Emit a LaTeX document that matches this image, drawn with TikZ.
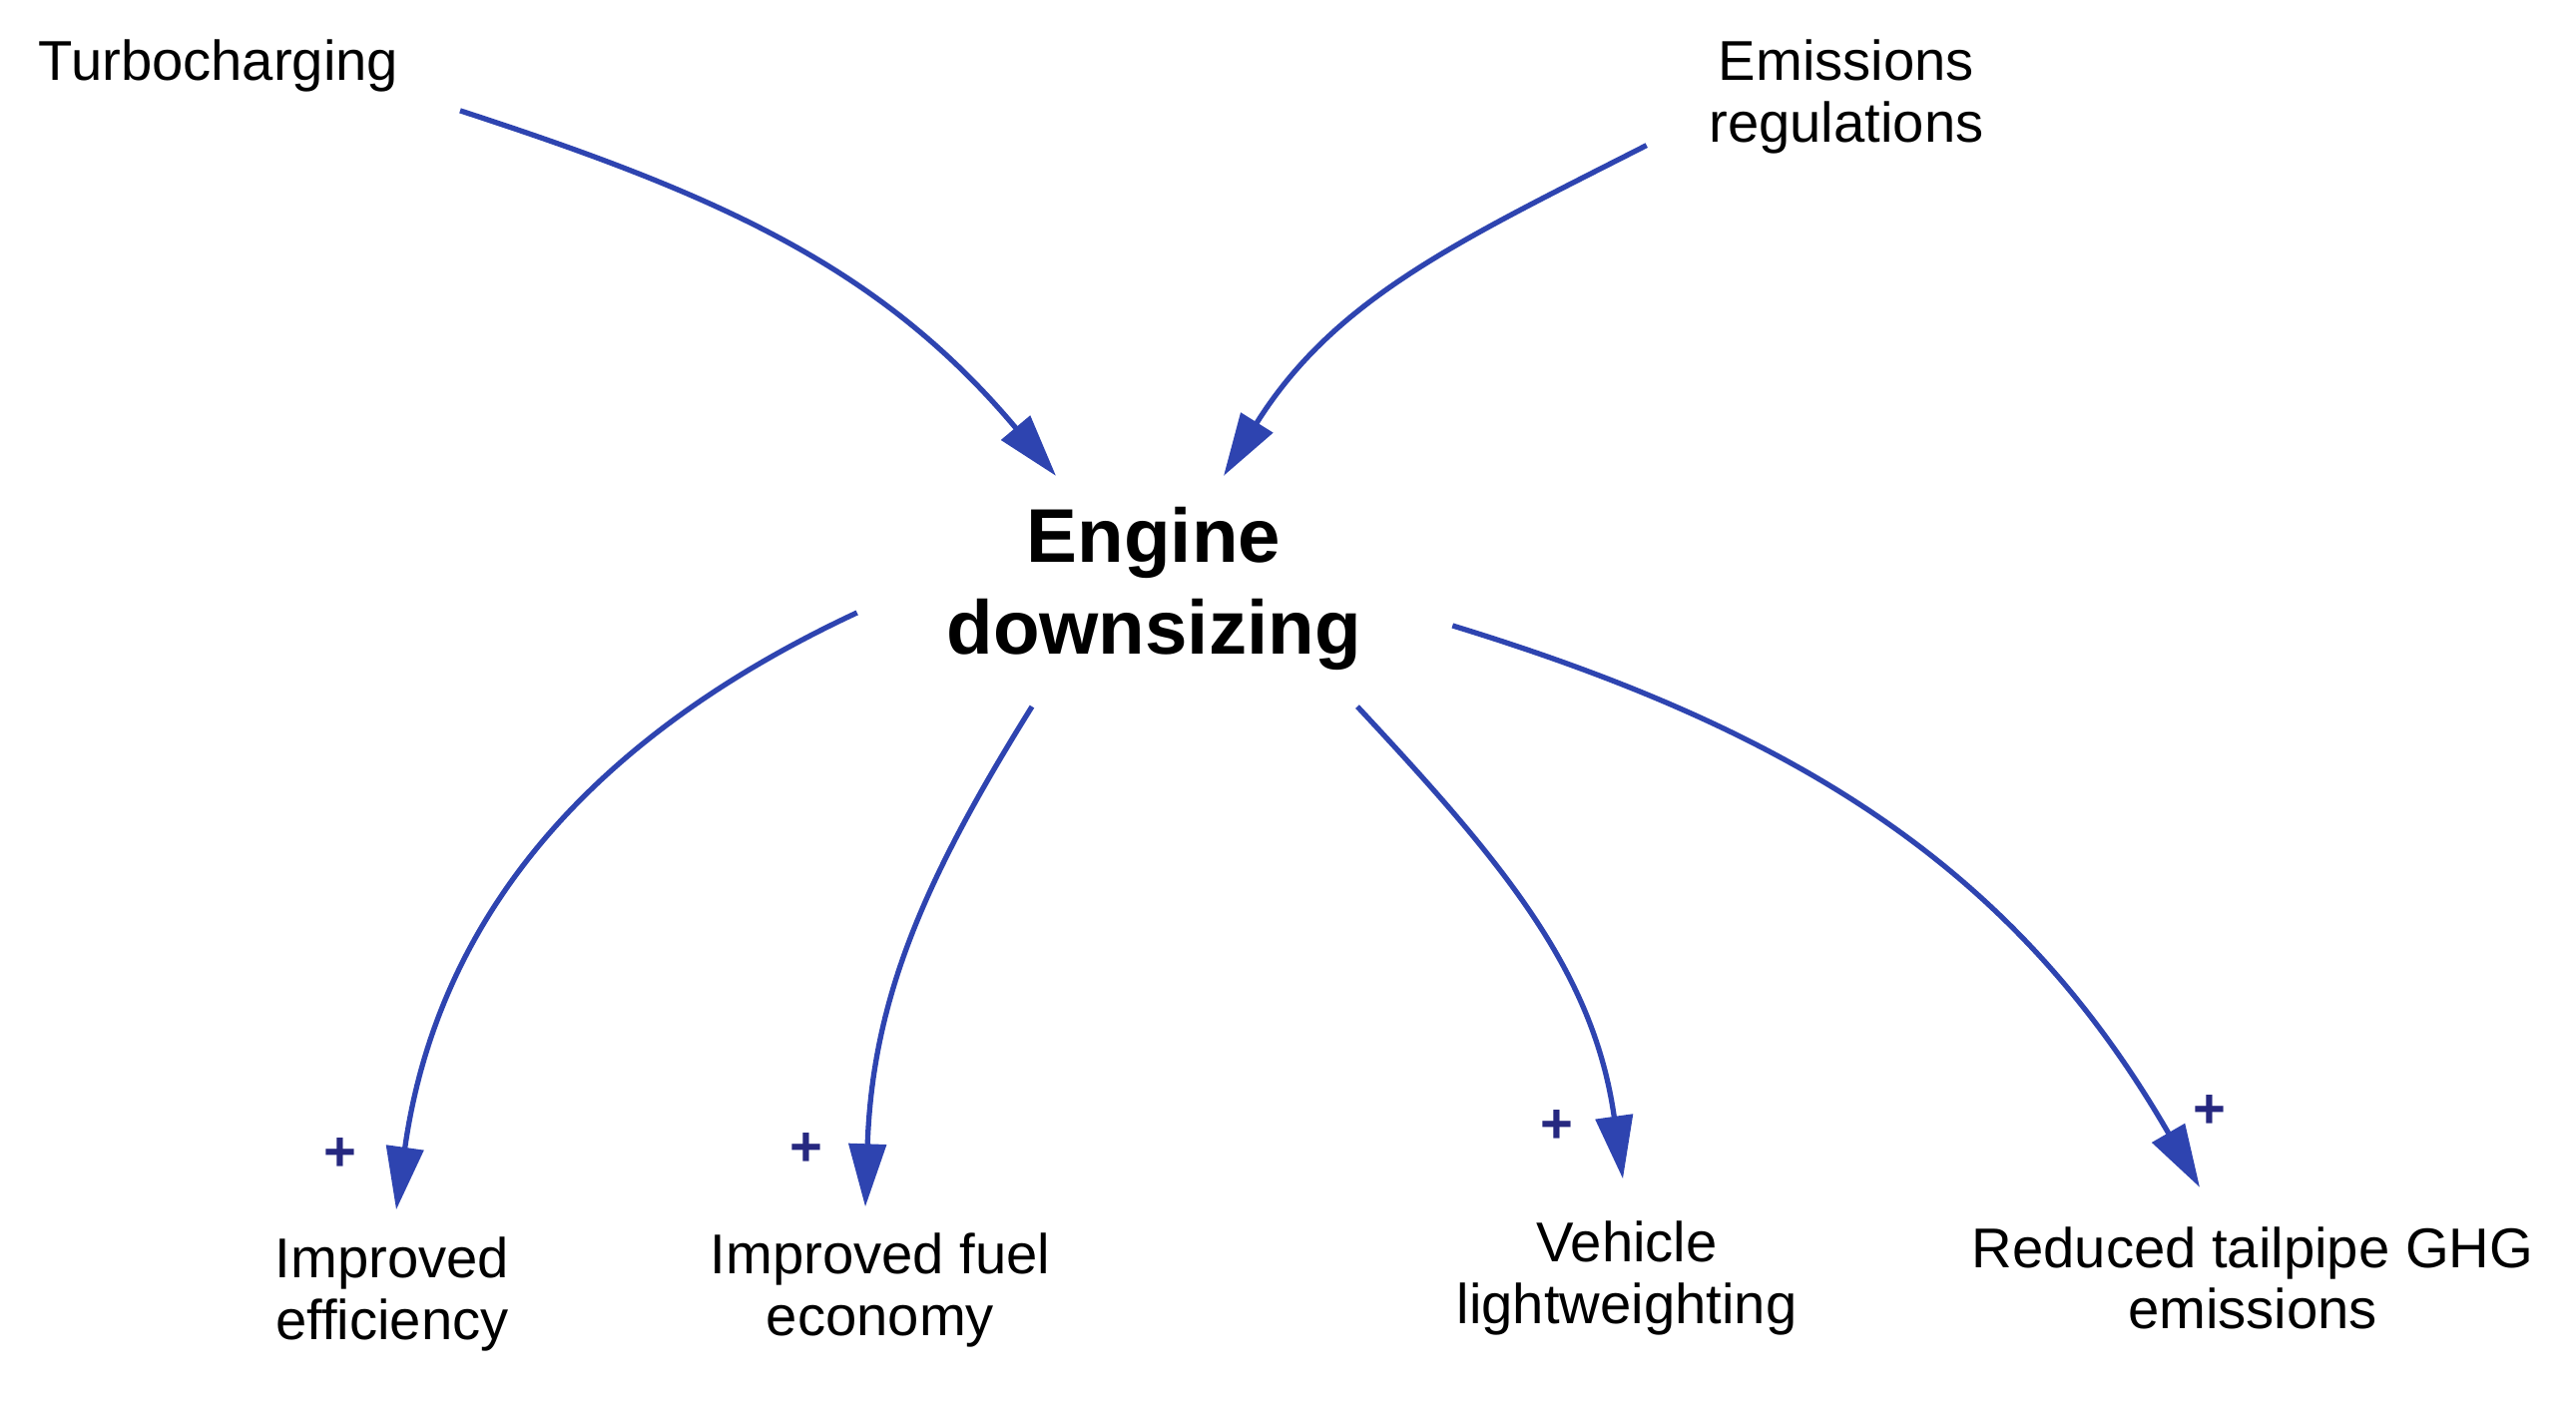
\documentclass[tikz,border=0pt]{standalone}
\usepackage{fontspec}
\setmainfont{Liberation Sans}
\usetikzlibrary{positioning,arrows.meta}
\definecolor{loopblue}{RGB}{46,68,176}
\definecolor{signblue}{RGB}{38,40,128}

\begin{document}
\begin{tikzpicture}[
		factor/.style={align=center, inner sep=0pt, font=\fontsize{16}{17.5}\selectfont},
		core/.style={align=center, inner sep=0pt, font=\fontsize{21.7}{26}\selectfont\bfseries},
		link/.style={-{Triangle[length=6.3mm, width=3.7mm]}, line width=1.5pt, draw=loopblue},
		sign/.style={text=signblue, inner sep=0pt, font=\fontsize{16}{16}\selectfont\bfseries}
		]
		\useasboundingbox (0,0) rectangle (25.81,14.04);
		
		\node[core] (engine) at (11.56,8.14) {Engine\\ downsizing};
		
		\node[factor] (turbo) at (2.19,13.38) {Turbocharging};
		\node[factor] (emis) at (18.50,13.07) {Emissions\\ regulations};
		
		\node[factor] (eff) at (3.93,1.07) {Improved\\ efficiency};
		\node[factor] (fuel) at (8.82,1.11) {Improved fuel\\ economy};
		\node[factor] (light) at (16.30,1.23) {Vehicle\\ lightweighting};
		\node[factor] (ghg) at (22.57,1.23) {Reduced tailpipe GHG\\ emissions};
		
		% inputs
		\draw[link] ([xshift=0.61cm, yshift=-0.18cm]turbo.south east) to[out=-18, in=130] ([xshift=-0.98cm, yshift=0.31cm]engine.north);
		\draw[link] ([xshift=-0.62cm, yshift=0.09cm]emis.south west) to[out=207, in=58] ([xshift=0.70cm, yshift=0.31cm]engine.north);
		
		% outputs
		\draw[link] ([xshift=-0.89cm, yshift=-0.24cm]engine.west) to[out=205, in=82] ([xshift=0.04cm, yshift=0.27cm]eff.north);
		\draw[link] ([xshift=-1.22cm, yshift=-0.36cm]engine.south) to[out=238, in=88] ([xshift=-0.15cm, yshift=0.26cm]fuel.north);
		\draw[link] ([xshift=2.04cm, yshift=-0.36cm]engine.south) to[out=-47, in=98] ([xshift=-0.04cm, yshift=0.42cm]light.north);
		\draw[link] ([xshift=0.91cm, yshift=-0.37cm]engine.east) to[out=-17, in=120] ([xshift=-0.53cm, yshift=0.39cm]ghg.north);
		
		% polarity
		\node[sign] (s1) at (3.41,2.47) {+};
		\node[sign] (s2) at (8.08,2.52) {+};
		\node[sign] (s3) at (15.60,2.75) {+};
		\node[sign] (s4) at (22.14,2.90) {+};
		
	\end{tikzpicture}
\end{document}
